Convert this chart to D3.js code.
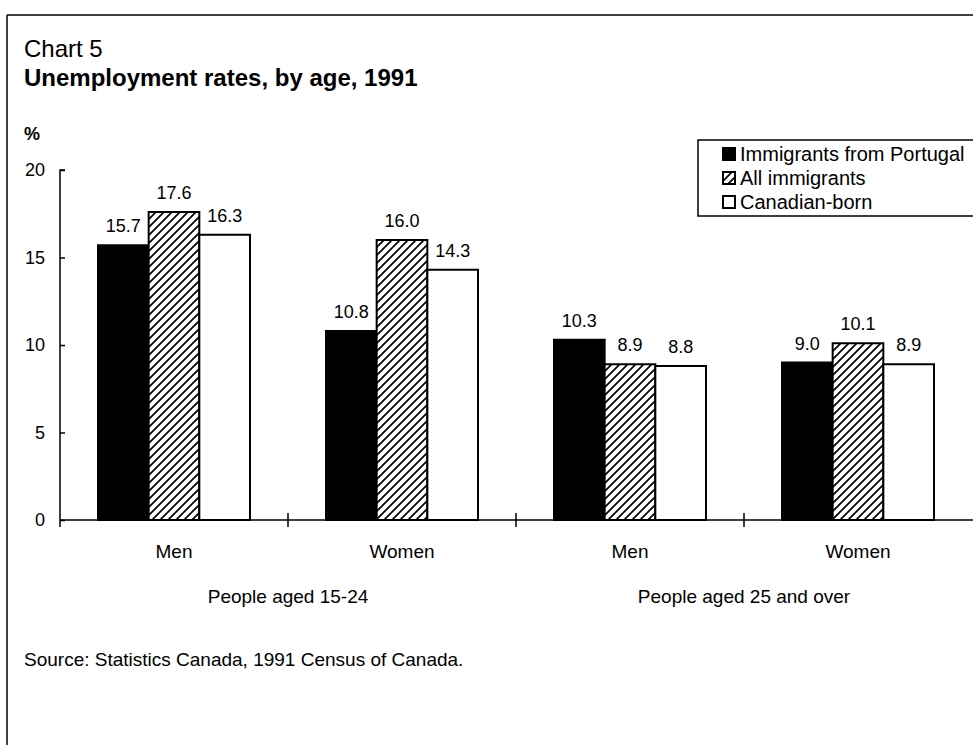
<!DOCTYPE html>
<html>
<head>
<meta charset="utf-8">
<script src="https://cdn.jsdelivr.net/npm/d3@7"></script>
<style>
  html, body { margin: 0; padding: 0; background: #fff; }
  svg { display: block; font-family: "Liberation Sans", Arial, Helvetica, sans-serif; }
</style>
</head>
<body>
<svg id="chart" width="973" height="745"></svg>
<script>
// ---- data ----
const groups = ["People aged 15-24", "People aged 25 and over"];
const categories = ["Men", "Women", "Men", "Women"];
const categoryGroup = [0, 0, 1, 1];
const seriesNames = ["Immigrants from Portugal", "All immigrants", "Canadian-born"];
const portugal = [15.7, 10.8, 10.3, 9.0];
const allImmigrants = [17.6, 16.0, 8.9, 10.1];
const canadianBorn = [16.3, 14.3, 8.8, 8.9];
const yTicks = [0, 5, 10, 15, 20];
const seriesValues = [portugal, allImmigrants, canadianBorn];

const svg = d3.select("#chart");
const W = 973, H = 745;

// defs: hatch pattern
const defs = svg.append("defs");
const pat = defs.append("pattern")
  .attr("id", "hatch").attr("patternUnits", "userSpaceOnUse")
  .attr("width", 8).attr("height", 8);
pat.append("rect").attr("width", 8).attr("height", 8).attr("fill", "#fff");
pat.append("path").attr("d", "M-2,2 L2,-2 M0,8 L8,0 M6,10 L10,6")
  .attr("stroke", "#000").attr("stroke-width", 1.7);

const fills = ["#000", "url(#hatch)", "#fff"];

// frame
svg.append("line").attr("x1", 7).attr("x2", W).attr("y1", 15).attr("y2", 15)
  .attr("stroke", "#000").attr("stroke-width", 1.5);
svg.append("line").attr("x1", 7).attr("x2", 7).attr("y1", 15).attr("y2", H)
  .attr("stroke", "#000").attr("stroke-width", 1.5);

// titles
svg.append("text").attr("x", 24).attr("y", 57).attr("font-size", 24)
  .text("Chart 5");
svg.append("text").attr("x", 24).attr("y", 86).attr("font-size", 24)
  .attr("font-weight", "bold").text("Unemployment rates, by age, 1991");
svg.append("text").attr("x", 24).attr("y", 140).attr("font-size", 18)
  .attr("font-weight", "bold").text("%");

// scales
const x0 = d3.scaleBand().domain(d3.range(categories.length)).range([60, 972]).paddingInner(0).paddingOuter(0);
const x1 = d3.scaleBand().domain(d3.range(seriesNames.length)).range([0, x0.bandwidth()]).paddingOuter(0.75).paddingInner(0);
const y = d3.scaleLinear().domain([0, 20]).range([520, 170]);

// bars
const gBars = svg.append("g");
categories.forEach((c, ci) => {
  seriesValues.forEach((vals, si) => {
    const v = vals[ci];
    const bx = x0(ci) + x1(si);
    gBars.append("rect")
      .attr("x", bx).attr("y", y(v))
      .attr("width", x1.bandwidth()).attr("height", y(0) - y(v))
      .attr("fill", fills[si]).attr("stroke", "#000").attr("stroke-width", 2);
    gBars.append("text")
      .attr("x", bx + x1.bandwidth() / 2).attr("y", y(v) - 13)
      .attr("text-anchor", "middle").attr("font-size", 18)
      .text(v.toFixed(1));
  });
});

// y axis
const yAxis = d3.axisRight(y).tickValues(yTicks).tickSize(5).tickFormat("");
const gy = svg.append("g").attr("transform", "translate(60,0)").call(yAxis);
gy.select(".domain").attr("d", `M5,${y(20)}H0V${y(0)}`).attr("stroke-width", 1.5);
gy.selectAll(".tick line").attr("stroke-width", 1.5);
yTicks.forEach(t => {
  svg.append("text").attr("x", 45).attr("y", y(t) + 6)
    .attr("text-anchor", "end").attr("font-size", 18).text(t);
});

// x axis
svg.append("line").attr("x1", 60).attr("x2", W).attr("y1", y(0)).attr("y2", y(0))
  .attr("stroke", "#000").attr("stroke-width", 1.5);
const boundaries = d3.range(categories.length).map(i => x0(i));
boundaries.forEach((bx, i) => {
  svg.append("line").attr("x1", bx).attr("x2", bx)
    .attr("y1", i === 0 ? y(0) : y(0) - 7).attr("y2", y(0) + 7)
    .attr("stroke", "#000").attr("stroke-width", 1.5);
});
categories.forEach((c, ci) => {
  svg.append("text").attr("x", x0(ci) + x0.bandwidth() / 2).attr("y", 558)
    .attr("text-anchor", "middle").attr("font-size", 19).text(c);
});
groups.forEach((g, gi) => {
  const idx = d3.range(categories.length).filter(i => categoryGroup[i] === gi);
  const left = x0(idx[0]), right = x0(idx[idx.length - 1]) + x0.bandwidth();
  svg.append("text").attr("x", (left + right) / 2).attr("y", 603)
    .attr("text-anchor", "middle").attr("font-size", 19).text(g);
});

// legend
const lg = svg.append("g");
lg.append("path").attr("d", "M973,140 H698 V216 H973").attr("fill", "#fff")
  .attr("stroke", "#000").attr("stroke-width", 1.5);
seriesNames.forEach((s, si) => {
  const cy = 154 + si * 24;
  lg.append("rect").attr("x", 723).attr("y", cy - 6).attr("width", 12).attr("height", 12)
    .attr("fill", fills[si]).attr("stroke", "#000").attr("stroke-width", 2);
  lg.append("text").attr("x", 740).attr("y", cy + 7).attr("font-size", 20).text(s);
});

// source
svg.append("text").attr("x", 24).attr("y", 666).attr("font-size", 19)
  .text("Source: Statistics Canada, 1991 Census of Canada.");
</script>
</body>
</html>
